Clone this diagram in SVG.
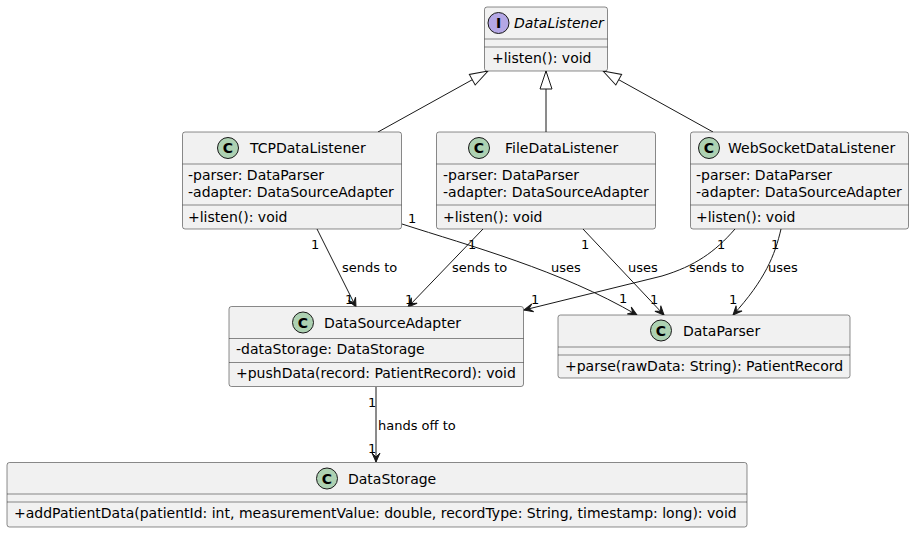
<svg xmlns="http://www.w3.org/2000/svg" width="915" height="534" viewBox="0 0 915 534">
<defs>
<style>
.box{fill:#F1F1F1;stroke:#181818;stroke-width:0.5}
.div{stroke:#181818;stroke-width:0.5}
.cc{fill:#ADD1B2;stroke:#181818;stroke-width:1}
.ci{fill:#B4A7E5;stroke:#181818;stroke-width:1}
.cl{font-family:"DejaVu Sans",sans-serif;font-size:14px;font-weight:bold;fill:#000;text-anchor:middle}
.nm{font-family:"DejaVu Sans",sans-serif;font-size:14px;fill:#000}
.it{font-style:italic}
.mb{font-family:"DejaVu Sans",sans-serif;font-size:14px;fill:#000}
.lb{font-family:"DejaVu Sans",sans-serif;font-size:13px;fill:#000}
.edge{fill:none;stroke:#181818;stroke-width:1}
.assoc{marker-end:url(#arr)}
.gen{marker-end:url(#tri)}
</style>
<marker id="arr" markerUnits="userSpaceOnUse" markerWidth="12" markerHeight="10" viewBox="0 0 12 10" refX="10" refY="5" orient="auto">
<path d="M10,5 L1,1 L5,5 L1,9 Z" fill="#181818" stroke="#181818" stroke-width="1" stroke-linejoin="miter"/>
</marker>
<marker id="tri" markerUnits="userSpaceOnUse" markerWidth="20" markerHeight="14" viewBox="0 0 20 14" refX="19" refY="7" orient="auto">
<path d="M19,7 L1,1 L1,13 Z" fill="#FFFFFF" stroke="#181818" stroke-width="1"/>
</marker>
</defs>
<rect width="915" height="534" fill="#FFFFFF"/>

<g id="connectors">
<path class="edge gen" d="M378,132 L488,71"/>
<path class="edge gen" d="M546,132 L546,71"/>
<path class="edge gen" d="M713,132 L603,71"/>
<path class="edge assoc" d="M317,229 L356,307"/>
<path class="edge assoc" d="M402,224 C470,246 560,270 637,315"/>
<path class="edge assoc" d="M483,229 L408,307"/>
<path class="edge assoc" d="M583,229 L664,315"/>
<path class="edge assoc" d="M735,229 C715,252 695,266 662,276 L524,310"/>
<path class="edge assoc" d="M781,229 C775,255 765,280 733,315"/>
<path class="edge assoc" d="M376,387 L376,462"/>
<text class="lb" x="311" y="249">1</text>
<text class="lb" x="342" y="272">sends to</text>
<text class="lb" x="345" y="304">1</text>
<text class="lb" x="408" y="223">1</text>
<text class="lb" x="551" y="272">uses</text>
<text class="lb" x="619" y="303">1</text>
<text class="lb" x="468" y="249">1</text>
<text class="lb" x="452" y="272">sends to</text>
<text class="lb" x="405" y="304">1</text>
<text class="lb" x="581" y="249">1</text>
<text class="lb" x="628" y="272">uses</text>
<text class="lb" x="650" y="304">1</text>
<text class="lb" x="717" y="249">1</text>
<text class="lb" x="689" y="272">sends to</text>
<text class="lb" x="531" y="304">1</text>
<text class="lb" x="771" y="249">1</text>
<text class="lb" x="768" y="272">uses</text>
<text class="lb" x="729" y="304">1</text>
<text class="lb" x="368" y="407">1</text>
<text class="lb" x="378" y="430">hands off to</text>
<text class="lb" x="368" y="453">1</text>
</g>

<g id="DataListener">
<rect class="box" x="484.5" y="7" width="123" height="64" rx="2.5"/>
<circle class="ci" cx="498.5" cy="23" r="10.5"/>
<text class="cl" x="498.5" y="28">I</text>
<text class="nm it" x="514" y="28">DataListener</text>
<line class="div" x1="484.5" y1="39" x2="607.5" y2="39"/>
<line class="div" x1="484.5" y1="47" x2="607.5" y2="47"/>
<text class="mb" x="492" y="63">+listen(): void</text>
</g>

<g id="TCPDataListener">
<rect class="box" x="182.5" y="132" width="219" height="97" rx="2.5"/>
<circle class="cc" cx="228" cy="148" r="10.5"/>
<text class="cl" x="228" y="153">C</text>
<text class="nm" x="250" y="153">TCPDataListener</text>
<line class="div" x1="182.5" y1="164" x2="401.5" y2="164"/>
<text class="mb" x="188" y="180">-parser: DataParser</text>
<text class="mb" x="188" y="197">-adapter: DataSourceAdapter</text>
<line class="div" x1="182.5" y1="205" x2="401.5" y2="205"/>
<text class="mb" x="188" y="222">+listen(): void</text>
</g>

<g id="FileDataListener">
<rect class="box" x="436.5" y="132" width="219" height="97" rx="2.5"/>
<circle class="cc" cx="479" cy="148" r="10.5"/>
<text class="cl" x="479" y="153">C</text>
<text class="nm" x="505" y="153">FileDataListener</text>
<line class="div" x1="436.5" y1="164" x2="655.5" y2="164"/>
<text class="mb" x="443" y="180">-parser: DataParser</text>
<text class="mb" x="443" y="197">-adapter: DataSourceAdapter</text>
<line class="div" x1="436.5" y1="205" x2="655.5" y2="205"/>
<text class="mb" x="443" y="222">+listen(): void</text>
</g>

<g id="WebSocketDataListener">
<rect class="box" x="690.5" y="132" width="218" height="97" rx="2.5"/>
<circle class="cc" cx="709" cy="148" r="10.5"/>
<text class="cl" x="709" y="153">C</text>
<text class="nm" x="728" y="153">WebSocketDataListener</text>
<line class="div" x1="690.5" y1="164" x2="908.5" y2="164"/>
<text class="mb" x="696" y="180">-parser: DataParser</text>
<text class="mb" x="696" y="197">-adapter: DataSourceAdapter</text>
<line class="div" x1="690.5" y1="205" x2="908.5" y2="205"/>
<text class="mb" x="696" y="222">+listen(): void</text>
</g>

<g id="DataSourceAdapter">
<rect class="box" x="229" y="306.5" width="294.5" height="80" rx="2.5"/>
<circle class="cc" cx="303" cy="322.5" r="10.5"/>
<text class="cl" x="303" y="327.5">C</text>
<text class="nm" x="324" y="327.5">DataSourceAdapter</text>
<line class="div" x1="229" y1="338.5" x2="523.5" y2="338.5"/>
<text class="mb" x="236" y="354">-dataStorage: DataStorage</text>
<line class="div" x1="229" y1="362.5" x2="523.5" y2="362.5"/>
<text class="mb" x="236" y="378">+pushData(record: PatientRecord): void</text>
</g>

<g id="DataParser">
<rect class="box" x="558" y="315" width="292" height="63" rx="2.5"/>
<circle class="cc" cx="661" cy="330.5" r="10.5"/>
<text class="cl" x="661" y="335.5">C</text>
<text class="nm" x="683" y="335.5">DataParser</text>
<line class="div" x1="558" y1="347" x2="850" y2="347"/>
<line class="div" x1="558" y1="355" x2="850" y2="355"/>
<text class="mb" x="565" y="370.5">+parse(rawData: String): PatientRecord</text>
</g>

<g id="DataStorage">
<rect class="box" x="7" y="462.5" width="740" height="64.5" rx="2.5"/>
<circle class="cc" cx="327" cy="478.5" r="10.5"/>
<text class="cl" x="327" y="483.5">C</text>
<text class="nm" x="348" y="483.5">DataStorage</text>
<line class="div" x1="7" y1="494" x2="747" y2="494"/>
<line class="div" x1="7" y1="502" x2="747" y2="502"/>
<text class="mb" x="14" y="518">+addPatientData(patientId: int, measurementValue: double, recordType: String, timestamp: long): void</text>
</g>
</svg>
